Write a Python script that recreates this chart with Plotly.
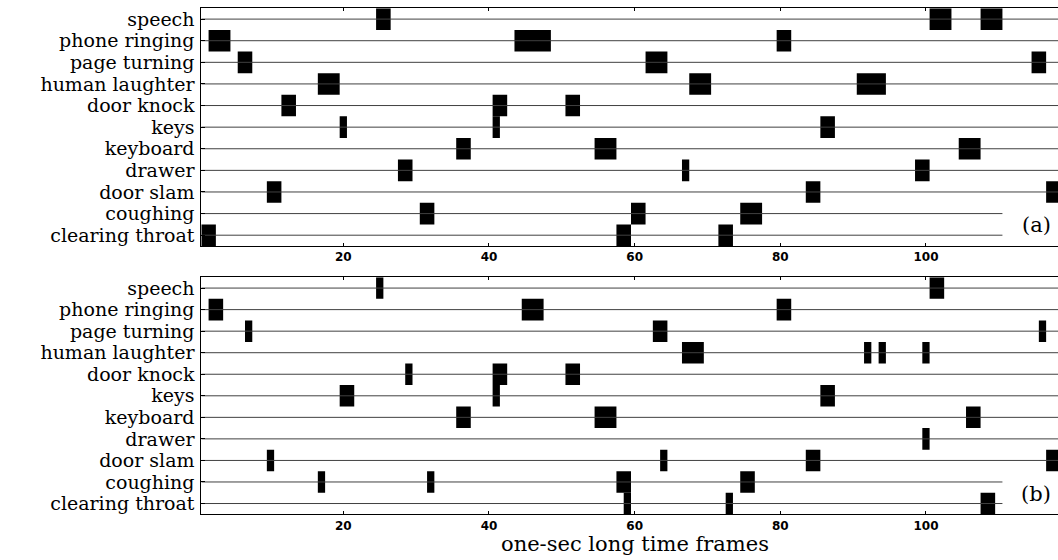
import plotly.graph_objects as go

classes = ["speech", "phone ringing", "page turning", "human laughter", "door knock",
           "keys", "keyboard", "drawer", "door slam", "coughing", "clearing throat"]
# number of frames in each class row (row line length)
n_frames = [118, 118, 118, 118, 118, 118, 118, 118, 118, 110, 110]

# panel (a): events as (class index, first frame, last frame)
a_cls   = [0, 0, 0, 1, 1, 1, 2, 2, 2, 3, 3, 3, 4, 4, 4, 5, 5, 5, 6, 6, 6, 7, 7, 7, 8, 8, 8, 9, 9, 9, 10, 10, 10]
a_start = [25, 101, 108, 2, 44, 80, 6, 62, 115, 17, 68, 91, 12, 41, 51, 20, 41, 86, 36, 55, 105, 28, 67, 99, 10, 84, 117, 31, 60, 75, 1, 58, 72]
a_end   = [26, 103, 110, 4, 48, 81, 7, 64, 116, 19, 70, 94, 13, 42, 52, 20, 41, 87, 37, 57, 107, 29, 67, 100, 11, 85, 118, 32, 61, 77, 2, 59, 73]

# panel (b)
b_cls   = [0, 0, 1, 1, 1, 2, 2, 2, 3, 3, 3, 3, 4, 4, 4, 5, 5, 5, 6, 6, 6, 7, 8, 8, 8, 8, 9, 9, 9, 9, 10, 10, 10]
b_start = [25, 101, 2, 45, 80, 7, 63, 116, 67, 92, 94, 100, 29, 41, 51, 20, 41, 86, 36, 55, 106, 100, 10, 64, 84, 117, 17, 32, 58, 75, 59, 73, 108]
b_end   = [25, 102, 3, 47, 81, 7, 64, 116, 69, 92, 94, 100, 29, 42, 52, 21, 41, 87, 37, 57, 107, 100, 10, 64, 85, 118, 17, 32, 59, 76, 59, 73, 109]

x_ticks = [20, 40, 60, 80, 100]
panel_labels = ["(a)", "(b)"]
x_title = "one-sec long time frames"

W, H = 1058, 560
SERIF = "DejaVu Serif"
FS = 19

fig = go.Figure()

panels = [(a_cls, a_start, a_end, "x", "y"), (b_cls, b_start, b_end, "x2", "y2")]
for cls, st, en, xa, ya in panels:
    # row baselines
    for i, n in enumerate(n_frames):
        fig.add_trace(go.Scatter(x=[0.5, n + 0.5], y=[i + 1, i + 1], mode="lines",
                                 line=dict(color="#404040", width=1),
                                 xaxis=xa, yaxis=ya, showlegend=False, hoverinfo="skip"))
    # event blocks
    fig.add_trace(go.Bar(
        orientation="h",
        y=[c + 1 for c in cls],
        x=[e - s + 1 for s, e in zip(st, en)],
        base=[s - 0.5 for s in st],
        width=1,
        marker=dict(color="black", line=dict(width=0)),
        xaxis=xa, yaxis=ya, showlegend=False))

x_left = 201.3 / W
dom_a = [1 - 246.0 / H, 1 - 8.3 / H]
dom_b = [1 - 514.3 / H, 1 - 277.3 / H]

xcommon = dict(range=[0.5, 118.13], tickvals=x_ticks, ticks="inside", ticklen=3,
               tickcolor="black", showline=True, linecolor="black", linewidth=1,
               mirror="ticks", showgrid=False, zeroline=False,
               tickfont=dict(family="DejaVu Sans", size=12, color="black", weight="bold"),
               domain=[x_left, 1.0])
ycommon = dict(range=[11.5, 0.5], tickvals=list(range(1, 12)), ticktext=classes,
               ticks="inside", ticklen=4, tickcolor="black", showline=True,
               linecolor="black", linewidth=1, mirror=False, showgrid=False,
               zeroline=False, ticklabelstandoff=2,
               tickfont=dict(family=SERIF, size=FS, color="black"))

fig.update_layout(
    width=W, height=H,
    margin=dict(l=0, r=0, t=0, b=0),
    paper_bgcolor="white", plot_bgcolor="white",
    barmode="overlay",
    xaxis=dict(**xcommon, anchor="y"),
    yaxis=dict(**ycommon, domain=dom_a, anchor="x"),
    xaxis2=dict(**xcommon, anchor="y2"),
    yaxis2=dict(**ycommon, domain=dom_b, anchor="x2"),
    annotations=[
        dict(text=panel_labels[0], x=1036 / W, y=1 - 225 / H, xref="paper", yref="paper",
             xanchor="center", yanchor="middle", showarrow=False,
             font=dict(family=SERIF, size=21, color="black")),
        dict(text=panel_labels[1], x=1036 / W, y=1 - 494 / H, xref="paper", yref="paper",
             xanchor="center", yanchor="middle", showarrow=False,
             font=dict(family=SERIF, size=21, color="black")),
        dict(text=x_title, x=635 / W, y=1 - 544 / H, xref="paper", yref="paper",
             xanchor="center", yanchor="middle", showarrow=False,
             font=dict(family=SERIF, size=21, color="black")),
    ],
)

fig.write_html("out.html")
